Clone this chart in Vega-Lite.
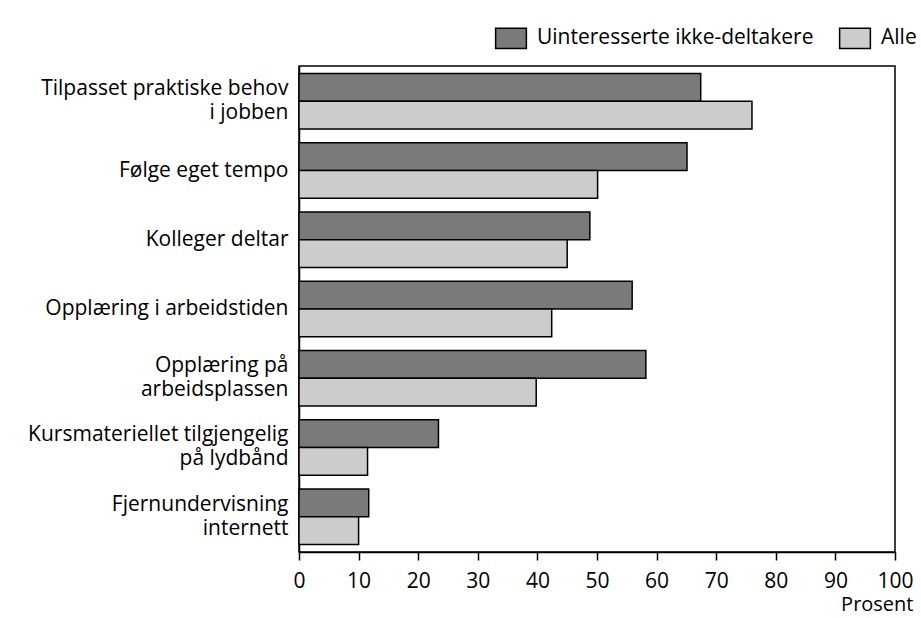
{
  "$schema": "https://vega.github.io/schema/vega-lite/v6.json",
  "autosize": "none",
  "padding": {"left": 299, "top": 66, "right": 26, "bottom": 66},
  "width": 596,
  "height": 486,
  "background": "white",
  "config": {
    "font": "Open Sans",
    "view": {"stroke": "black", "strokeWidth": 1.5},
    "axis": {"labelFont": "Open Sans", "titleFont": "Open Sans", "labelColor": "black", "titleColor": "black", "domainColor": "black", "tickColor": "black"}
  },
  "data": {
    "values": [
      {"kategori": "Tilpasset praktiske behov|i jobben", "gruppe": "Uinteresserte ikke-deltakere", "prosent": 67.4},
      {"kategori": "Tilpasset praktiske behov|i jobben", "gruppe": "Alle", "prosent": 76.0},
      {"kategori": "Følge eget tempo", "gruppe": "Uinteresserte ikke-deltakere", "prosent": 65.1},
      {"kategori": "Følge eget tempo", "gruppe": "Alle", "prosent": 50.1},
      {"kategori": "Kolleger deltar", "gruppe": "Uinteresserte ikke-deltakere", "prosent": 48.8},
      {"kategori": "Kolleger deltar", "gruppe": "Alle", "prosent": 45.0},
      {"kategori": "Opplæring i arbeidstiden", "gruppe": "Uinteresserte ikke-deltakere", "prosent": 55.9},
      {"kategori": "Opplæring i arbeidstiden", "gruppe": "Alle", "prosent": 42.4},
      {"kategori": "Opplæring på|arbeidsplassen", "gruppe": "Uinteresserte ikke-deltakere", "prosent": 58.2},
      {"kategori": "Opplæring på|arbeidsplassen", "gruppe": "Alle", "prosent": 39.8},
      {"kategori": "Kursmateriellet tilgjengelig|på lydbånd", "gruppe": "Uinteresserte ikke-deltakere", "prosent": 23.4},
      {"kategori": "Kursmateriellet tilgjengelig|på lydbånd", "gruppe": "Alle", "prosent": 11.5},
      {"kategori": "Fjernundervisning|internett", "gruppe": "Uinteresserte ikke-deltakere", "prosent": 11.7},
      {"kategori": "Fjernundervisning|internett", "gruppe": "Alle", "prosent": 10.0}
    ]
  },
  "mark": {"type": "bar", "stroke": "black", "strokeWidth": 1.5},
  "encoding": {
    "y": {
      "field": "kategori",
      "type": "nominal",
      "sort": null,
      "scale": {"paddingInner": 0.2, "paddingOuter": 0.11},
      "axis": {
        "title": null,
        "labelExpr": "split(datum.label, '|')",
        "labelFontSize": 21,
        "labelLineHeight": 24,
        "labelPadding": 11,
        "labelLimit": 300,
        "labelOffset": {"condition": {"test": "indexof(datum.value, '|') >= 0", "value": -12}, "value": 0},
        "ticks": false,
        "domainWidth": 1.5
      }
    },
    "yOffset": {
      "field": "gruppe",
      "type": "nominal",
      "sort": ["Uinteresserte ikke-deltakere", "Alle"],
      "scale": {"paddingInner": 0, "paddingOuter": 0}
    },
    "x": {
      "field": "prosent",
      "type": "quantitative",
      "scale": {"domain": [0, 100], "nice": false},
      "axis": {
        "title": "Prosent",
        "titleX": 614,
        "titleAlign": "right",
        "titleFontSize": 20,
        "titleFontWeight": "normal",
        "titlePadding": 3,
        "labelFontSize": 21,
        "labelPadding": 10,
        "labelFlush": false,
        "labelOverlap": false,
        "tickSize": 8,
        "tickWidth": 1.5,
        "domainWidth": 1.5,
        "grid": false,
        "values": [0, 10, 20, 30, 40, 50, 60, 70, 80, 90, 100]
      }
    },
    "color": {
      "field": "gruppe",
      "type": "nominal",
      "sort": ["Uinteresserte ikke-deltakere", "Alle"],
      "scale": {"domain": ["Uinteresserte ikke-deltakere", "Alle"], "range": ["#7a7a7a", "#cccccc"]},
      "legend": {
        "title": null,
        "orient": "none",
        "direction": "horizontal",
        "legendX": 201,
        "legendY": -39,
        "symbolType": "M-1.5,-1H1.5V1H-1.5Z",
        "symbolSize": 420,
        "symbolStrokeColor": "black",
        "symbolStrokeWidth": 1.5,
        "symbolOpacity": 1,
        "labelFontSize": 21,
        "labelFont": "Open Sans",
        "labelColor": "black",
        "labelOffset": 15,
        "labelLimit": 400,
        "columnPadding": 22,
        "padding": 0
      }
    }
  }
}
